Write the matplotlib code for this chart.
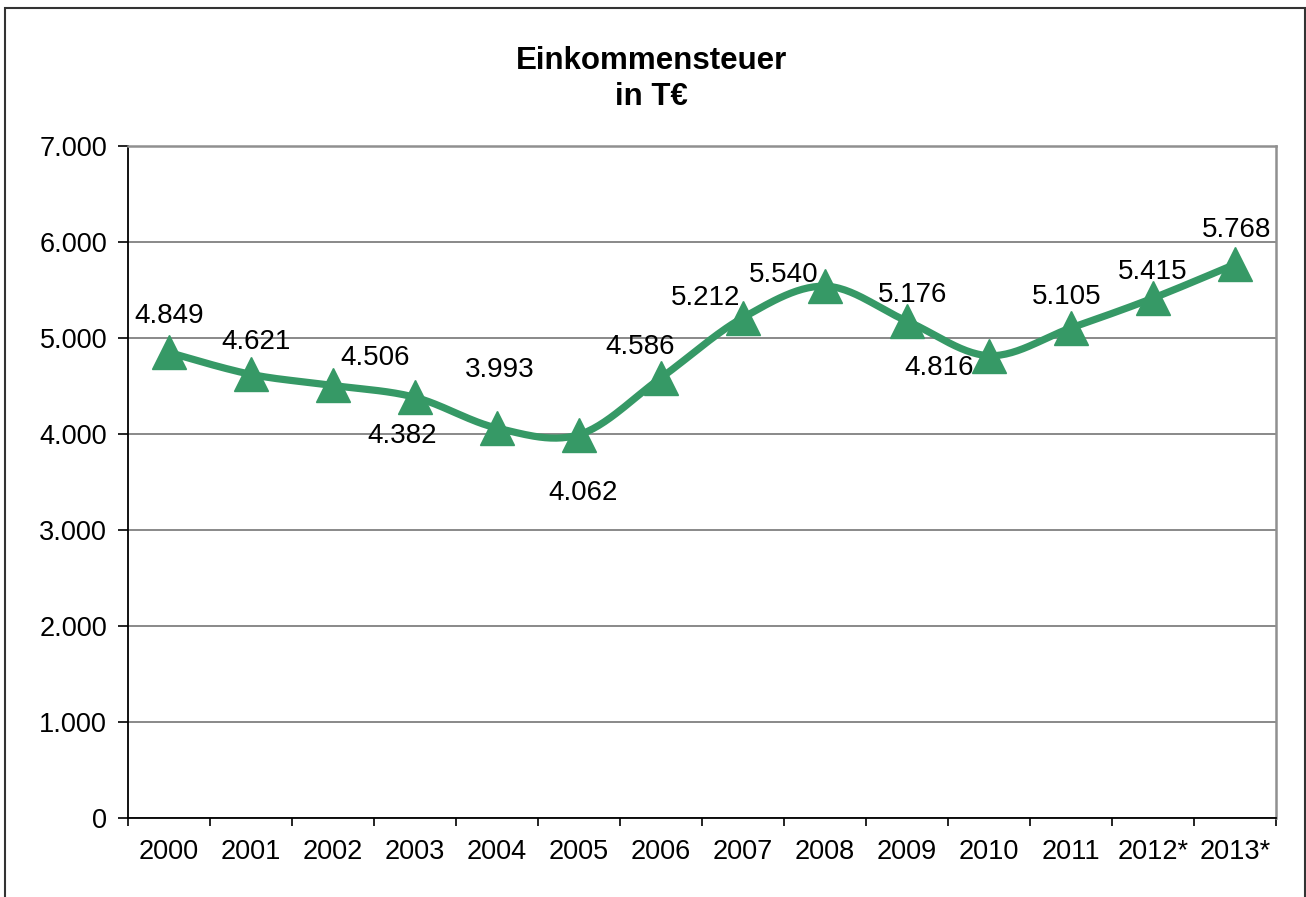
import numpy as np
import matplotlib
matplotlib.use("Agg")
import matplotlib.pyplot as plt
from matplotlib.patches import Rectangle

plt.rcParams['font.family'] = ['Liberation Sans', 'DejaVu Sans']

years = ['2000', '2001', '2002', '2003', '2004', '2005', '2006',
         '2007', '2008', '2009', '2010', '2011', '2012*', '2013*']
values = [4849, 4621, 4506, 4382, 4062, 3993, 4586,
          5212, 5540, 5176, 4816, 5105, 5415, 5768]
# label texts as printed in the chart
labels = ['4.849', '4.621', '4.506', '4.382', '3.993', '4.062', '4.586',
          '5.212', '5.540', '5.176', '4.816', '5.105', '5.415', '5.768']
# label offsets in points (dx, dy) relative to each marker
offsets = [(0, 26), (4, 23), (30, 20), (-9, -28), (2, 42), (3, -42), (-15, 22),
           (-27, 14), (-30, 8), (4, 19), (-36, -9), (-3, 22), (0, 19), (1, 25)]

GREEN = '#369966'


def smooth(x, y, n=30):
    # Catmull-Rom spline like Excel's smoothed line
    x = np.asarray(x, float)
    y = np.asarray(y, float)
    px = np.concatenate([[x[0]], x, [x[-1]]])
    py = np.concatenate([[y[0]], y, [y[-1]]])
    xs, ys = [], []
    t = np.linspace(0, 1, n)
    for i in range(1, len(px) - 2):
        p0, p1, p2, p3 = [np.array([px[j], py[j]]) for j in (i - 1, i, i + 1, i + 2)]
        c1 = p1 + (p2 - p0) / 6
        c2 = p2 - (p3 - p1) / 6
        pts = ((1 - t) ** 3)[:, None] * p1 + (3 * (1 - t) ** 2 * t)[:, None] * c1 \
            + (3 * (1 - t) * t ** 2)[:, None] * c2 + (t ** 3)[:, None] * p2
        xs.extend(pts[:, 0])
        ys.extend(pts[:, 1])
    return xs, ys


fig = plt.figure(figsize=(13.06, 8.97), dpi=100)
fig.patches.append(Rectangle((5 / 1306, -0.1), 1300 / 1306, 1.1 - 8 / 897,
                             transform=fig.transFigure, fill=False,
                             edgecolor='#333333', linewidth=1.5))

ax = fig.add_axes([128 / 1306, 79 / 897, 1148 / 1306, 672 / 897])
x = np.arange(len(years))

sx, sy = smooth(x, values)
ax.plot(sx, sy, color=GREEN, linewidth=5.2, solid_capstyle='round', zorder=3)
ax.plot(x, values, linestyle='none', marker='^', markersize=25,
        color=GREEN, zorder=4)

for xi, v, lab, (dx, dy) in zip(x, values, labels, offsets):
    ax.annotate(lab, (xi, v), xytext=(dx, dy), textcoords='offset points',
                ha='center', va='center', fontsize=20, color='black', zorder=5)

ax.set_xlim(-0.5, len(years) - 0.5)
ax.set_ylim(0, 7000)
ax.set_yticks(range(0, 7001, 1000))
ax.set_yticklabels(['0', '1.000', '2.000', '3.000', '4.000', '5.000', '6.000', '7.000'])
ax.set_xticks(x)
ax.set_xticklabels(years)
ax.set_xticks(np.arange(-0.5, len(years), 1), minor=True)
ax.tick_params(axis='x', which='major', length=0, labelsize=19.5, pad=15)
ax.tick_params(axis='x', which='minor', length=6, width=1.2, direction='out')
ax.tick_params(axis='y', length=7, width=1.2, direction='out', labelsize=19.5, pad=8)

ax.grid(axis='y', color='#808080', linewidth=1.3)
ax.set_axisbelow(True)
for side in ['left', 'bottom']:
    ax.spines[side].set_color('black')
    ax.spines[side].set_linewidth(1.3)
for side in ['top', 'right']:
    ax.spines[side].set_color('#909090')
    ax.spines[side].set_linewidth(1.8)

fig.text(651 / 1306, 1 - 79 / 897, 'Einkommensteuer\nin T€', ha='center', va='center',
         fontsize=22.5, fontweight='bold', linespacing=1.25)

fig.savefig('out.png', dpi=100)
